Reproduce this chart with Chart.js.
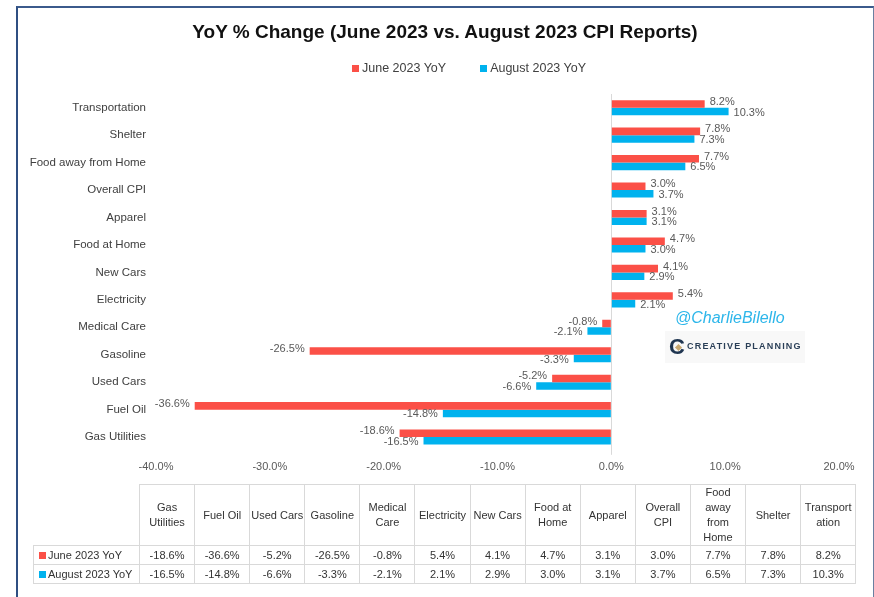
<!DOCTYPE html>
<html>
<head>
<meta charset="utf-8">
<script src="https://cdn.jsdelivr.net/npm/chart.js@4.4.0/dist/chart.umd.min.js"></script>
<style>
  body { margin: 0; background: #fff; font-family: "Liberation Sans", Arial, sans-serif; }
  #page { position: relative; width: 874px; height: 597px; overflow: hidden; background: #fff; }
  #frame { position: absolute; left: 16px; top: 6px; width: 855px; height: 640px;
           border-top: 2px solid #3B5A8C; border-left: 2px solid #2F4F82; border-right: 1px solid #6A7FA0; }
  #chartBox { position: absolute; left: 0; top: 0; width: 874px; height: 486px; }
  #title { position: absolute; left: 18px; width: 854px; top: 21px; text-align: center;
           font-weight: bold; font-size: 19px; color: #111; }
  #legend { position: absolute; top: 61px; left: 352px; font-size: 12.5px; color: #404040; white-space: nowrap; }
  #legend .item { display: inline-block; margin-right: 34px; }
  #legend .sw { display: inline-block; width: 7px; height: 7px; margin-right: 3px; }
  #tag { position: absolute; left: 675px; top: 309px; font-size: 16px; font-style: italic; color: #2DB6EA; }
  #logo { position: absolute; left: 665px; top: 331px; width: 140px; height: 32px; background: #F8F8F8; }
  #logo .c { position: absolute; left: 4px; top: 4px; font: bold 22px "Liberation Sans", Arial, sans-serif; color: #1F3550; line-height: 24px; }
  #logo .d { position: absolute; left: 11px; top: 14px; width: 5px; height: 5px; background: #C8A870; transform: rotate(45deg); }
  #logo .t { position: absolute; left: 22px; top: 10px; font-size: 9px; font-weight: bold; letter-spacing: 1.2px; color: #2A3F57; }
  #dataTable { position: absolute; left: 33px; top: 484px; border-collapse: collapse; font-size: 11px; color: #333; table-layout: fixed; }
  #dataTable td { border: 1px solid #D9D9D9; text-align: center; padding: 0; }
  #dataTable tr.head td { height: 59px; line-height: 15px; white-space: pre-line; }
  #dataTable tr.val td { height: 18px; }
  #dataTable td.corner { border: none; border-right: 1px solid #D9D9D9; border-bottom: 1px solid #D9D9D9; }
  #dataTable td.rowlab { text-align: left; padding-left: 5px; white-space: nowrap; }
  #dataTable .sw { display: inline-block; width: 7px; height: 7px; margin-right: 2px; }
</style>
</head>
<body>
<div id="page">
  <div id="frame"></div>
  <div id="chartBox"><canvas id="cpiChart"></canvas></div>
  <div id="title">YoY % Change (June 2023 vs. August 2023 CPI Reports)</div>
  <div id="legend"></div>
  <div id="tag">@CharlieBilello</div>
  <div id="logo"><span class="c">C</span><span class="d"></span><span class="t">CREATIVE PLANNING</span></div>
  <table id="dataTable"></table>
</div>
<script>
const categories = ['Transportation', 'Shelter', 'Food away from Home', 'Overall CPI', 'Apparel',
  'Food at Home', 'New Cars', 'Electricity', 'Medical Care', 'Gasoline', 'Used Cars', 'Fuel Oil', 'Gas Utilities'];
const juneYoY = [8.2, 7.8, 7.7, 3.0, 3.1, 4.7, 4.1, 5.4, -0.8, -26.5, -5.2, -36.6, -18.6];
const augYoY = [10.3, 7.3, 6.5, 3.7, 3.1, 3.0, 2.9, 2.1, -2.1, -3.3, -6.6, -14.8, -16.5];
const seriesNames = ['June 2023 YoY', 'August 2023 YoY'];
const seriesColors = ['#FB5047', '#00B2EE'];
// table header text, same order as the table (bottom category first), wrapped like the original
const tableHeaders = ['Gas\nUtilities', 'Fuel Oil', 'Used Cars', 'Gasoline', 'Medical\nCare', 'Electricity',
  'New Cars', 'Food at\nHome', 'Apparel', 'Overall\nCPI', 'Food\naway\nfrom\nHome', 'Shelter', 'Transport\nation'];

const pct = v => v.toFixed(1) + '%';

// value labels at the end of each bar
const barLabels = {
  id: 'barLabels',
  afterDatasetsDraw(chart) {
    const ctx = chart.ctx;
    ctx.save();
    ctx.font = '11px "Liberation Sans", Arial, sans-serif';
    ctx.fillStyle = '#595959';
    ctx.textBaseline = 'middle';
    chart.data.datasets.forEach((ds, i) => {
      chart.getDatasetMeta(i).data.forEach((bar, j) => {
        const v = ds.data[j];
        ctx.textAlign = v < 0 ? 'right' : 'left';
        ctx.fillText(pct(v), bar.x + (v < 0 ? -5 : 5), bar.y + (i === 0 ? -2 : 1));
      });
    });
    ctx.restore();
  }
};

Chart.defaults.font.family = '"Liberation Sans", Arial, sans-serif';

new Chart(document.getElementById('cpiChart'), {
  type: 'bar',
  data: {
    labels: categories,
    datasets: [
      { label: seriesNames[0], data: juneYoY, backgroundColor: seriesColors[0] },
      { label: seriesNames[1], data: augYoY, backgroundColor: seriesColors[1] }
    ]
  },
  options: {
    indexAxis: 'y',
    responsive: true,
    maintainAspectRatio: false,
    animation: false,
    categoryPercentage: 0.55,
    barPercentage: 1,
    layout: { padding: { top: 94, bottom: 6, left: 0, right: 35 } },
    scales: {
      x: {
        min: -40,
        max: 20,
        ticks: {
          stepSize: 10,
          padding: 6,
          color: '#595959',
          font: { size: 11 },
          callback: v => pct(v)
        },
        grid: {
          color: c => (c.tick && c.tick.value === 0) ? '#D9D9D9' : 'rgba(0,0,0,0)',
          tickColor: c => (c.tick && c.tick.value === 0) ? '#D9D9D9' : 'rgba(0,0,0,0)',
          tickLength: 4
        },
        border: { display: false }
      },
      y: {
        afterFit: scale => { scale.width = 156; },
        ticks: { padding: 10, color: '#404040', font: { size: 11.5 } },
        grid: { display: false, drawTicks: false },
        border: { display: false }
      }
    },
    plugins: {
      legend: { display: false },
      title: { display: false },
      tooltip: { enabled: false }
    }
  },
  plugins: [barLabels]
});

// legend
const legend = document.getElementById('legend');
seriesNames.forEach((name, i) => {
  const item = document.createElement('span');
  item.className = 'item';
  item.innerHTML = '<span class="sw" style="background:' + seriesColors[i] + '"></span>' + name;
  legend.appendChild(item);
});

// data table below the chart (bottom category first, as in the original)
const table = document.getElementById('dataTable');
const order = categories.map((c, i) => i).reverse();
let html = '<colgroup><col style="width:106px">' + order.map(() => '<col style="width:55.1px">').join('') + '</colgroup>';
html += '<tr class="head"><td class="corner"></td>' + tableHeaders.map(h => '<td>' + h + '</td>').join('') + '</tr>';
[juneYoY, augYoY].forEach((series, s) => {
  html += '<tr class="val"><td class="rowlab"><span class="sw" style="background:' + seriesColors[s] + '"></span>' +
    seriesNames[s] + '</td>' + order.map(i => '<td>' + pct(series[i]) + '</td>').join('') + '</tr>';
});
table.innerHTML = html;
</script>
</body>
</html>
